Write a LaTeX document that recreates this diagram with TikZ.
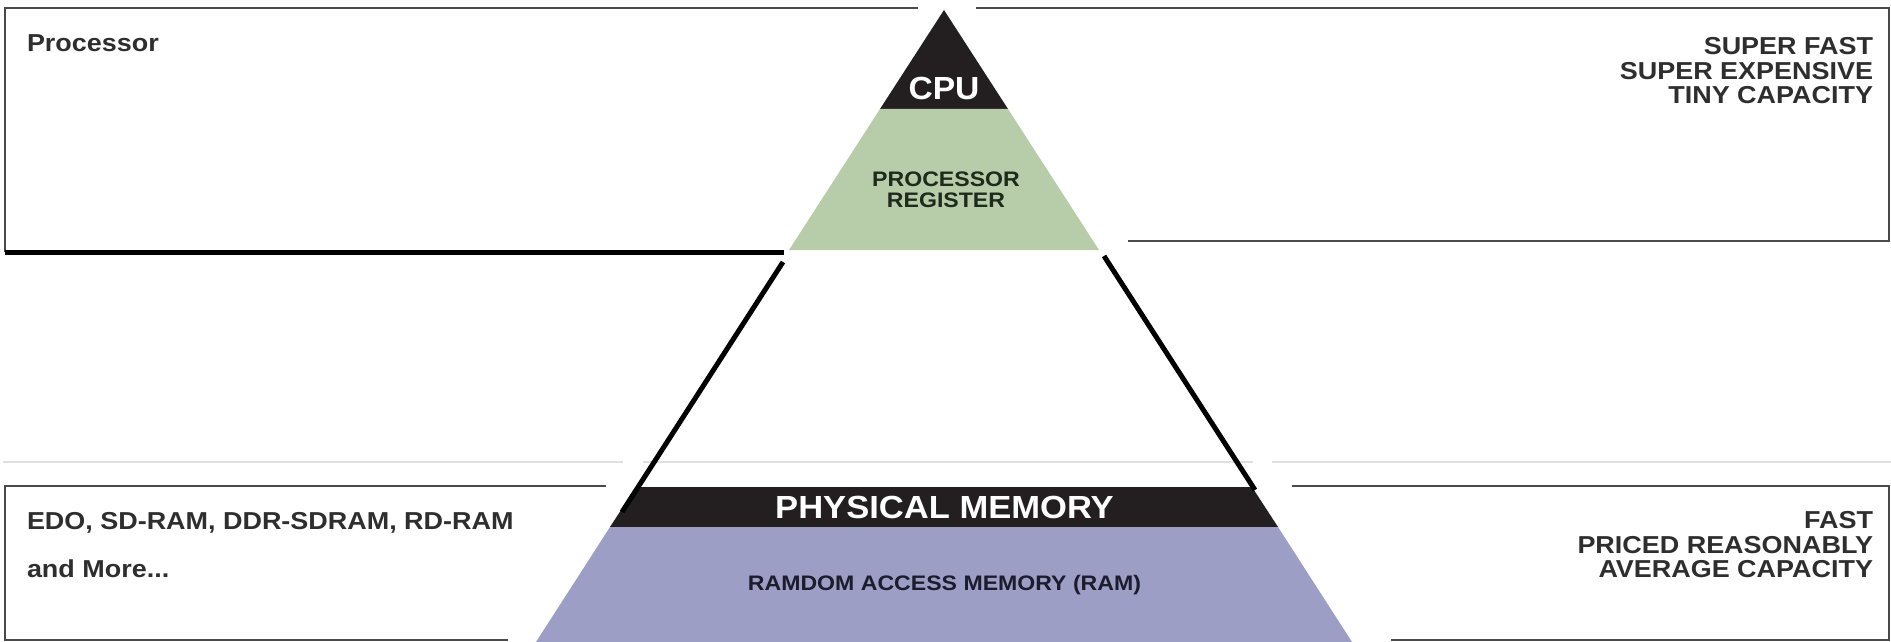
\documentclass[tikz,border=0pt]{standalone}
\usepackage{fontspec}
\setmainfont{Liberation Sans}
\usepackage{graphicx}
\definecolor{pgreen}{HTML}{B7CCA9}
\definecolor{pblue}{HTML}{9C9EC5}
\definecolor{pblack}{HTML}{231F20}
\definecolor{boxgray}{HTML}{4A4A4A}
\definecolor{txtgray}{HTML}{2E2E2E}
\definecolor{greentxt}{HTML}{1E2A1C}
\definecolor{bluetxt}{HTML}{1C1C2C}
\newcommand{\wx}[1]{\scalebox{1.1}[1]{#1}}
\tikzset{
  every node/.style={inner sep=0pt, outer sep=0pt},
  sidetext/.style={font=\bfseries\fontsize{12.25}{14}\selectfont, text=txtgray},
  boxedge/.style={draw=boxgray, line width=1.3pt},
  heavyline/.style={draw=black, line width=2.5pt},
  guide/.style={draw=black!12, line width=0.6pt},
  bandtext/.style={font=\bfseries\fontsize{16}{18}\selectfont, text=white},
}
\begin{document}
\begin{tikzpicture}[x=0.5pt,y=-0.5pt]
\useasboundingbox (0,0) rectangle (1891,642);
% faint guide line
\coordinate (g0) at (3,462);
\coordinate (g1) at (623,462);
\coordinate (g2) at (643,462);
\coordinate (g3) at (1253,462);
\coordinate (g4) at (1272,462);
\coordinate (g5) at (1891,462);
\draw[guide] (g0) -- (g1) (g2) -- (g3) (g4) -- (g5);
% pyramid layers
\coordinate (apex) at (944,10);
\coordinate (c1) at (1008,109);
\coordinate (c0) at (880,109);
\coordinate (gr) at (1099,250);
\coordinate (gl) at (789,250);
\fill[pblack] (apex) -- (c1) -- (c0) -- cycle;
\fill[pgreen] (c0) -- (c1) -- (gr) -- (gl) -- cycle;
\coordinate (b0) at (636,487);
\coordinate (b1) at (1252,487);
\coordinate (b2) at (1278,527);
\coordinate (b3) at (610,527);
\coordinate (r2) at (1352,642);
\coordinate (r3) at (536,642);
\fill[pblack] (b0) -- (b1) -- (b2) -- (b3) -- cycle;
\fill[pblue] (b3) -- (b2) -- (r2) -- (r3) -- cycle;
% slanted edges of the middle section
\coordinate (la) at (783,262);
\coordinate (lb) at (622,512);
\coordinate (ra) at (1104,256);
\coordinate (rb) at (1255,490);
\draw[heavyline] (la) -- (lb);
\draw[heavyline] (ra) -- (rb);
% boxes
\coordinate (tl0) at (918,8);
\coordinate (tl1) at (5,8);
\coordinate (tl2) at (5,252);
\coordinate (tl3) at (784,252);
\draw[boxedge] (tl0) -- (tl1) -- (tl2);
\draw[heavyline] (tl2) -- (tl3);
\coordinate (tr0) at (976,8);
\coordinate (tr1) at (1889,8);
\coordinate (tr2) at (1889,241);
\coordinate (tr3) at (1128,241);
\draw[boxedge] (tr0) -- (tr1) -- (tr2) -- (tr3);
\coordinate (bl0) at (606,486);
\coordinate (bl1) at (5,486);
\coordinate (bl2) at (5,640);
\coordinate (bl3) at (508,640);
\draw[boxedge] (bl0) -- (bl1) -- (bl2) -- (bl3);
\coordinate (br0) at (1292,486);
\coordinate (br1) at (1889,486);
\coordinate (br2) at (1889,640);
\coordinate (br3) at (1391,640);
\draw[boxedge] (br0) -- (br1) -- (br2) -- (br3);
% side texts
\node[sidetext, anchor=base west] (proc) at (27,52) {\wx{Processor}};
\node[sidetext, anchor=base east] (sf) at (1873,55) {\wx{SUPER FAST}};
\node[sidetext, anchor=base east] (se) at (1873,80) {\wx{SUPER EXPENSIVE}};
\node[sidetext, anchor=base east] (tc) at (1873,104) {\wx{TINY CAPACITY}};
\node[sidetext, anchor=base west] (edo) at (27,529) {\wx{EDO, SD-RAM, DDR-SDRAM, RD-RAM}};
\node[sidetext, anchor=base west] (more) at (27,577) {\wx{and More...}};
\node[sidetext, anchor=base east] (fast) at (1873,528) {\wx{FAST}};
\node[sidetext, anchor=base east] (pr) at (1873,553) {\wx{PRICED REASONABLY}};
\node[sidetext, anchor=base east] (ac) at (1873,577) {\wx{AVERAGE CAPACITY}};
% pyramid texts
\node[bandtext, anchor=base] (cpu) at (944,100) {\scalebox{1.05}[1]{CPU}};
\node[font=\bfseries\fontsize{10.5}{12}\selectfont, text=greentxt, anchor=base] (preg1) at (946,186) {\wx{PROCESSOR}};
\node[font=\bfseries\fontsize{10.5}{12}\selectfont, text=greentxt, anchor=base] (preg2) at (946,207) {\wx{REGISTER}};
\node[bandtext, anchor=base] (phys) at (944.5,518) {\scalebox{1.08}[1]{PHYSICAL MEMORY}};
\node[font=\bfseries\fontsize{10.5}{12}\selectfont, text=bluetxt, anchor=base] (ram) at (944.5,590) {\wx{RAMDOM ACCESS MEMORY (RAM)}};
\end{tikzpicture}
\end{document}
